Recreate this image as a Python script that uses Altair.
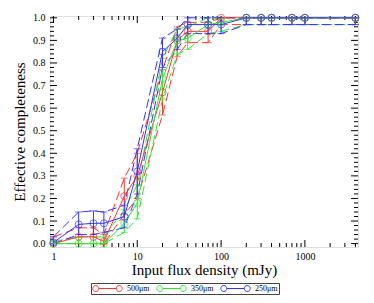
import altair as alt
import pandas as pd

# ---- data ----
flux = [1, 2, 3, 4, 7, 10, 20, 30, 40, 70, 100, 200, 300, 400, 700, 1000, 4000]
bands = ["500μm", "350μm", "250μm"]
colors = ["#ff3333", "#33e633", "#3333ff"]

c500 = [0.00, 0.03, 0.03, 0.01, 0.21, 0.30, 0.67, 0.90, 0.94, 0.94, 1.00, 1.00, 1.00, 1.00, 1.00, 1.00, 1.00]
lo500 = [0.00, 0.00, 0.00, 0.00, 0.13, 0.20, 0.57, 0.83, 0.89, 0.89, 0.97, 0.97, 0.97, 0.97, 0.97, 0.97, 0.97]
hi500 = [0.03, 0.07, 0.07, 0.04, 0.29, 0.40, 0.77, 0.96, 0.98, 0.98, 1.00, 1.00, 1.00, 1.00, 1.00, 1.00, 1.00]

c350 = [0.00, 0.00, 0.00, 0.00, 0.09, 0.18, 0.73, 0.90, 0.91, 0.97, 0.98, 1.00, 1.00, 1.00, 1.00, 1.00, 1.00]
lo350 = [0.00, 0.00, 0.00, 0.00, 0.05, 0.11, 0.64, 0.84, 0.86, 0.93, 0.94, 0.97, 0.97, 0.97, 0.97, 0.97, 0.97]
hi350 = [0.01, 0.03, 0.03, 0.03, 0.15, 0.26, 0.82, 0.95, 0.96, 1.00, 1.00, 1.00, 1.00, 1.00, 1.00, 1.00, 1.00]

c250 = [0.005, 0.085, 0.09, 0.09, 0.12, 0.32, 0.85, 0.91, 0.97, 0.97, 0.97, 1.00, 1.00, 1.00, 1.00, 1.00, 1.00]
lo250 = [0.00, 0.04, 0.04, 0.05, 0.07, 0.22, 0.78, 0.86, 0.93, 0.93, 0.93, 0.97, 0.97, 0.97, 0.97, 0.97, 0.97]
hi250 = [0.03, 0.14, 0.145, 0.14, 0.17, 0.42, 0.91, 0.95, 1.00, 1.00, 1.00, 1.00, 1.00, 1.00, 1.00, 1.00, 1.00]

x_major = [1, 10, 100, 1000]
x_minor = [2, 3, 4, 5, 6, 7, 8, 9, 20, 30, 40, 50, 60, 70, 80, 90,
           200, 300, 400, 500, 600, 700, 800, 900, 2000, 3000, 4000]
y_major = [round(0.1 * i, 1) for i in range(11)]
y_minor = [round(0.02 * i, 2) for i in range(51) if i % 5 != 0]

rows = []
for b, c, lo, hi in [(bands[0], c500, lo500, hi500),
                     (bands[1], c350, lo350, hi350),
                     (bands[2], c250, lo250, hi250)]:
    for i, f in enumerate(flux):
        rows.append({"flux": f, "value": c[i], "lo": lo[i], "hi": hi[i], "band": b})
df = pd.DataFrame(rows)

W, H = 308, 231
FONT = "Liberation Serif, DejaVu Serif, serif"

xscale = alt.Scale(type="log", domain=[0.91, 4300], nice=False)
yscale = alt.Scale(domain=[-0.015, 1.008], nice=False, zero=False)
cscale = alt.Scale(domain=bands, range=colors)

xaxis = alt.Axis(values=x_major, format="d", ticks=False, domain=False, grid=False,
                 labelFont=FONT, labelFontSize=10, labelColor="black", labelPadding=4,
                 labelOverlap=False,
                 title="Input flux density (mJy)", titleFont=FONT, titleFontSize=15,
                 titleFontWeight="normal", titleColor="black", titlePadding=1)
yaxis = alt.Axis(values=y_major, format=".1f", ticks=False, domain=False, grid=False,
                 labelFont=FONT, labelFontSize=10, labelColor="black", labelPadding=5,
                 labelOverlap=False,
                 title="Effective completeness", titleFont=FONT, titleFontSize=15,
                 titleFontWeight="normal", titleColor="black", titlePadding=5)

sym = ("M-0.98,0 a0.2,0.2 0 1,0 0.4,0 a0.2,0.2 0 1,0 -0.4,0 "
       "M-0.58,0 L0.58,0 "
       "M0.58,0 a0.2,0.2 0 1,0 0.4,0 a0.2,0.2 0 1,0 -0.4,0")

legend = alt.Legend(orient="none", legendX=41, legendY=267, direction="horizontal",
                    title=None, symbolType=sym, symbolSize=900, symbolStrokeWidth=1,
                    symbolFillColor="transparent", labelFont=FONT, labelFontSize=8,
                    labelColor="black", strokeColor="#444", fillColor="white",
                    padding=1, clipHeight=9, columnPadding=6, labelOffset=4)

X = alt.X("flux:Q", scale=xscale, axis=xaxis)

def Y(field):
    return alt.Y(field, scale=yscale, axis=yaxis)

layers = []

# inward tick marks (all four sides)
def xt(vals, L):
    b = alt.Chart(pd.DataFrame({"flux": vals})).mark_rule(color="black", strokeWidth=1)
    return [b.encode(x=X, y=alt.value(H), y2=alt.value(H - L)),
            b.encode(x=X, y=alt.value(0), y2=alt.value(L))]

def yt(vals, L):
    b = alt.Chart(pd.DataFrame({"t": vals})).mark_rule(color="black", strokeWidth=1)
    return [b.encode(y=Y("t:Q"), x=alt.value(0), x2=alt.value(L)),
            b.encode(y=Y("t:Q"), x=alt.value(W), x2=alt.value(W - L))]

layers += xt(x_major, 7) + xt(x_minor, 4) + yt(y_major, 7) + yt(y_minor, 4)

# per-band error envelopes and error bars (fixed colours, no legend)
for b, col in zip(bands, colors):
    sub = alt.Chart(df).transform_filter(alt.datum.band == b)
    layers += [
        sub.mark_line(strokeWidth=1, strokeDash=[9, 4], color=col).encode(
            x=X, y=Y("hi:Q"), order=alt.Order("flux:Q")),
        sub.mark_line(strokeWidth=1, strokeDash=[9, 4], color=col).encode(
            x=X, y=Y("lo:Q"), order=alt.Order("flux:Q")),
        sub.mark_rule(strokeWidth=1, color=col).encode(x=X, y=Y("lo:Q"), y2="hi:Q"),
        sub.mark_tick(orient="horizontal", size=7, thickness=1, color=col).encode(
            x=X, y=Y("lo:Q")),
        sub.mark_tick(orient="horizontal", size=7, thickness=1, color=col).encode(
            x=X, y=Y("hi:Q")),
    ]

# main curves (carry the legend)
layers.append(alt.Chart(df).mark_line(strokeWidth=1).encode(
    x=X, y=Y("value:Q"),
    color=alt.Color("band:N", scale=cscale, legend=legend, sort=bands),
    order=alt.Order("flux:Q")))

for b, col in zip(bands, colors):
    sub = alt.Chart(df).transform_filter(alt.datum.band == b)
    layers.append(sub.mark_point(shape="circle", filled=False, size=50, strokeWidth=1,
                                 color=col).encode(x=X, y=Y("value:Q")))

chart = alt.layer(*layers).properties(
    width=W, height=H, autosize="none",
    padding={"left": 42, "top": 8, "right": 8, "bottom": 53}
).configure_view(stroke="black", strokeWidth=1.5).configure(background="white")

chart.save("out.html", embed_options={"renderer": "svg", "actions": False})
